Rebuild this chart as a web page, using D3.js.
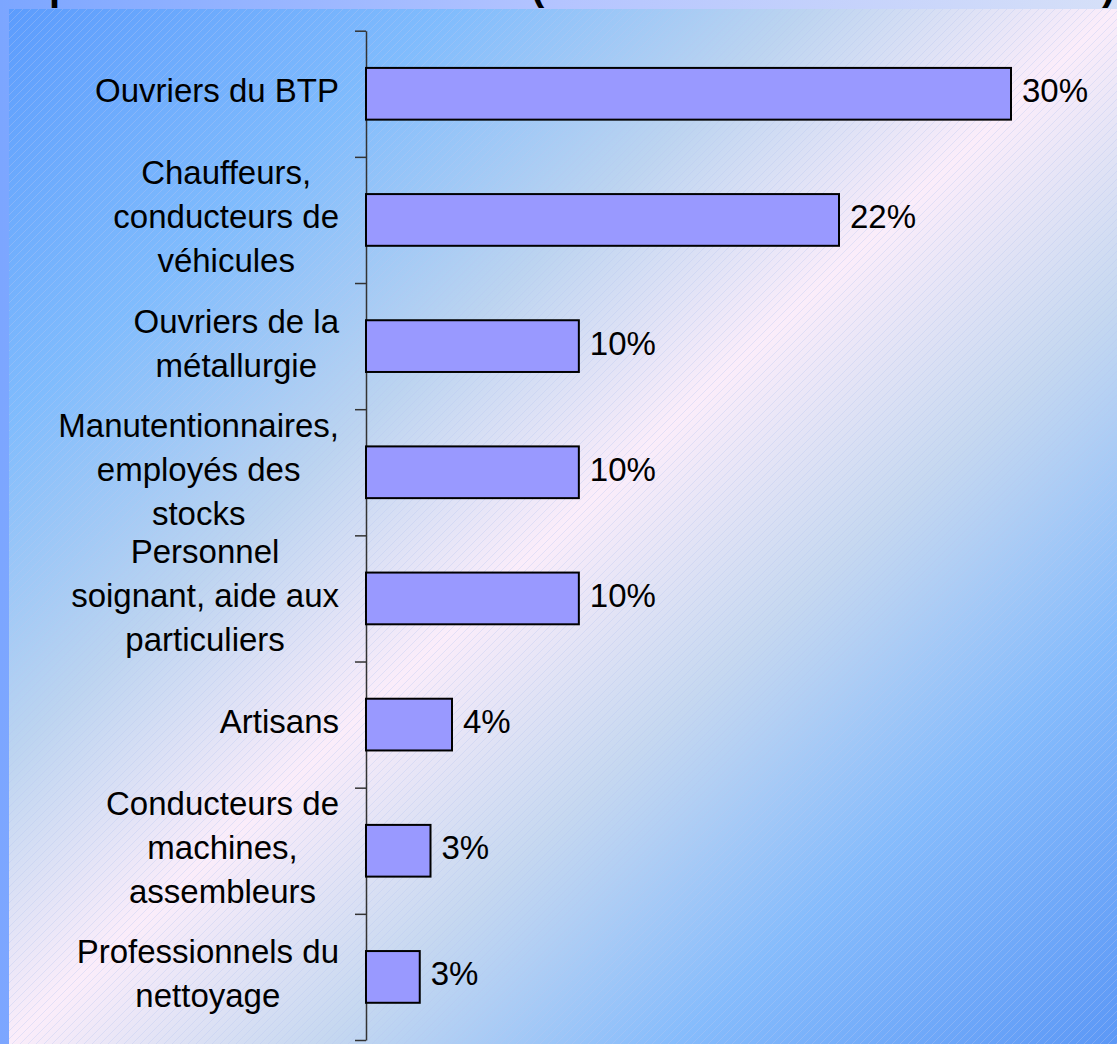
<!DOCTYPE html>
<html>
<head>
<meta charset="utf-8">
<script src="https://cdn.jsdelivr.net/npm/d3@7"></script>
<style>
  body { margin: 0; overflow: hidden; }
  svg { display: block; font-family: "Liberation Sans", Arial, sans-serif; }
</style>
</head>
<body>
<svg id="chart" width="1117" height="1044"></svg>
<script>
// Categories (line breaks as in the picture)
var categories = [
  "Ouvriers du BTP",
  "Chauffeurs,\nconducteurs de\nvéhicules",
  "Ouvriers de la\nmétallurgie",
  "Manutentionnaires,\nemployés des\nstocks",
  "Personnel\nsoignant, aide aux\nparticuliers",
  "Artisans",
  "Conducteurs de\nmachines,\nassembleurs",
  "Professionnels du\nnettoyage",
];
// Share of each group (%)
var values = [30, 22, 9.9, 9.9, 9.9, 4, 3, 2.5];
var valueLabels = ["30%", "22%", "10%", "10%", "10%", "4%", "3%", "3%"];

var svg = d3.select("#chart");
var width = 1117, height = 1044;
var defs = svg.append("defs");

// outer background (visible as the thin strips on top and left)
var outerGrad = defs.append("linearGradient").attr("id", "outer")
  .attr("x1", 0).attr("y1", 0).attr("x2", 1).attr("y2", 0);
outerGrad.append("stop").attr("offset", 0).attr("stop-color", "#7ca6ff");
outerGrad.append("stop").attr("offset", 0.5).attr("stop-color", "#b4c4ff");
outerGrad.append("stop").attr("offset", 1).attr("stop-color", "#d6e0f8");

// panel gradient: blue corners, pink along the other diagonal
var panelGrad = defs.append("linearGradient").attr("id", "panel")
  .attr("x1", 0).attr("y1", 0).attr("x2", 1).attr("y2", 1);
[
  [0, "#5c9cfd"], [0.2, "#80bcfd"], [0.36, "#bcd4f0"], [0.5, "#fbedfa"],
  [0.64, "#c6d8f0"], [0.8, "#86bcfc"], [1, "#5c98f6"],
].forEach(function (s) {
  panelGrad.append("stop").attr("offset", s[0]).attr("stop-color", s[1]);
});

// faint diagonal hatching
var hatch = defs.append("pattern").attr("id", "hatch")
  .attr("patternUnits", "userSpaceOnUse")
  .attr("width", 8).attr("height", 8);
hatch.append("path")
  .attr("d", "M-2,2 L2,-2 M0,8 L8,0 M6,10 L10,6")
  .attr("stroke", "#b8c4f0").attr("stroke-width", 1).attr("opacity", 0.35);

svg.append("rect").attr("width", width).attr("height", height).attr("fill", "url(#outer)");

// clipped title pieces peeking above the panel
var frag = svg.append("g").attr("font-weight", "bold").attr("font-size", 40).attr("fill", "#000");
frag.append("text").attr("x", 49).attr("y", 0).text("p");
frag.append("text").attr("x", 531).attr("y", 0).text("(");
frag.append("text").attr("x", 1102).attr("y", 0).text(")");

var panel = { x: 9, y: 9, w: width - 9, h: height - 9 };
svg.append("rect").attr("x", panel.x).attr("y", panel.y)
  .attr("width", panel.w).attr("height", panel.h).attr("fill", "url(#panel)");
svg.append("rect").attr("x", panel.x).attr("y", panel.y)
  .attr("width", panel.w).attr("height", panel.h).attr("fill", "url(#hatch)");

// plot area
var plot = { left: 366, top: 30.7, bottom: 1040 };

var xScale = d3.scaleLinear().domain([0, 30]).range([plot.left, 1011]);
var yScale = d3.scaleBand().domain(d3.range(categories.length))
  .range([plot.top, plot.bottom]).paddingInner(0.59).paddingOuter(0.295);
var yEdges = d3.scaleLinear().domain([0, categories.length]).range([plot.top, plot.bottom]);

// category axis with ticks between the categories
svg.append("g")
  .attr("class", "y-axis")
  .attr("transform", "translate(" + plot.left + ",0)")
  .call(d3.axisLeft(yEdges).tickValues(d3.range(categories.length + 1))
    .tickSize(11).tickSizeOuter(0).tickFormat(""))
  .call(function (g) {
    g.selectAll("path, line").attr("stroke", "#333").attr("stroke-width", 1.5);
  });

// bars
svg.selectAll(".bar")
  .data(values)
  .join("rect")
  .attr("class", "bar")
  .attr("x", xScale(0))
  .attr("y", function (d, i) { return yScale(i); })
  .attr("width", function (d) { return xScale(d) - xScale(0); })
  .attr("height", yScale.bandwidth())
  .attr("fill", "#9999ff")
  .attr("stroke", "#000")
  .attr("stroke-width", 2);

// value labels
svg.selectAll(".value-label")
  .data(values)
  .join("text")
  .attr("class", "value-label")
  .attr("x", function (d) { return xScale(d) + 11; })
  .attr("y", function (d, i) { return yScale(i) + yScale.bandwidth() / 2 + 8.5; })
  .attr("font-size", 33)
  .attr("fill", "#000")
  .text(function (d, i) { return valueLabels[i]; });

// category labels: lines centred on each other, block right-aligned
var lineHeight = 44;
var labelRight = 339;
categories.forEach(function (label, i) {
  var lines = label.split("\n");
  var center = yScale(i) + yScale.bandwidth() / 2;
  var g = svg.append("g").attr("class", "cat-label");
  var texts = lines.map(function (line, j) {
    return g.append("text")
      .attr("font-size", 33)
      .attr("fill", "#000")
      .attr("text-anchor", "middle")
      .attr("y", center + 8.5 + (j - (lines.length - 1) / 2) * lineHeight)
      .text(line);
  });
  var maxW = d3.max(texts, function (t) { return t.node().getComputedTextLength(); });
  texts.forEach(function (t) { t.attr("x", labelRight - maxW / 2); });
});
</script>
</body>
</html>
